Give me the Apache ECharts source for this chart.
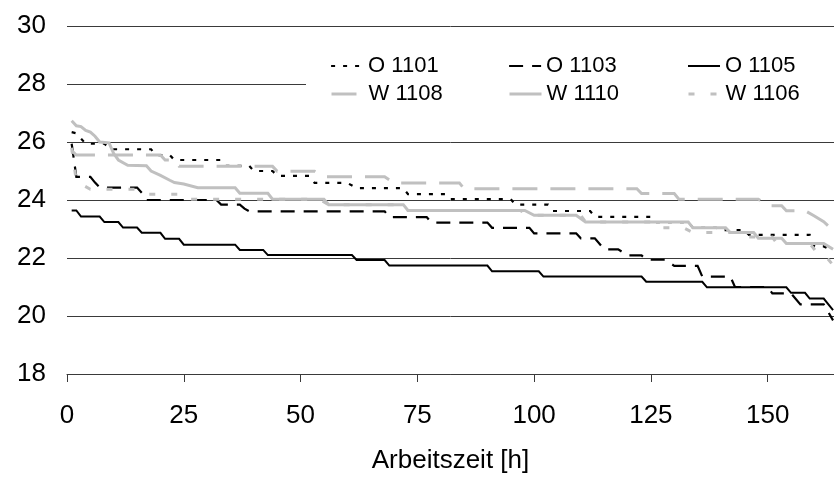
<!DOCTYPE html>
<html>
<head>
<meta charset="utf-8">
<script src="https://cdn.jsdelivr.net/npm/echarts@6/dist/echarts.min.js"></script>
<style>
html,body{margin:0;padding:0;background:#fff;}
#chart{width:834px;height:479px;}
</style>
</head>
<body>
<div id="chart"></div>
<script>
// Tick labels
var xTicks = [0, 25, 50, 75, 100, 125, 150];
var yTicks = [18, 20, 22, 24, 26, 28, 30];

// Series names
var seriesNames = ['O 1101', 'O 1103', 'O 1105', 'W 1108', 'W 1110', 'W 1106'];

// Series data: hours (x) and values (y) at the corners of each step
var o1101X = [1,2,4,8,9,10,18,19,22,23,33,34,39,40,44,45,52,53,60,62,72,73,81,82,95,96,103,104,112,113,125,126,133,134,139,140,145,146,159,160,162,164];
var o1101Y = [26.34,26.3,25.94,25.94,25.8,25.75,25.75,25.55,25.55,25.38,25.38,25.18,25.18,25.0,25.0,24.83,24.83,24.59,24.59,24.41,24.41,24.2,24.2,24.03,24.03,23.84,23.84,23.62,23.62,23.42,23.42,23.24,23.24,23.04,23.04,22.96,22.96,22.8,22.8,22.4,22.4,22.25];

var o1103X = [1,2,5,6,7,15,16,17,32,33,37,38,39,68,69,77,78,90,91,99,100,109,110,113,115,118,120,123,124,128,130,135,136,142,143,150,151,155,157,162,164];
var o1103Y = [25.94,24.8,24.8,24.6,24.43,24.43,24.25,24.0,24.0,23.84,23.84,23.7,23.61,23.61,23.41,23.41,23.22,23.22,23.04,23.04,22.85,22.85,22.68,22.68,22.3,22.3,22.09,22.09,21.94,21.94,21.73,21.73,21.36,21.36,21.0,21.0,20.78,20.78,20.4,20.4,19.85];

var o1105X = [1,2,3,7,8,11,12,15,16,20,21,24,25,36,37,42,43,61,62,68,69,90,91,101,102,123,124,136,137,154,155,158,159,162,163,164];
var o1105Y = [23.64,23.64,23.43,23.43,23.24,23.24,23.05,23.05,22.87,22.87,22.66,22.66,22.46,22.46,22.28,22.28,22.1,22.1,21.93,21.93,21.74,21.74,21.54,21.54,21.36,21.36,21.18,21.18,20.99,20.99,20.8,20.8,20.6,20.6,20.4,20.2];

var w1108X = [1,2,20,21,23,24,44,45,53,55,68,70,84,85,122,123,130,131,148,150,153,154,158,160,162,164];
var w1108Y = [25.7,25.55,25.55,25.38,25.38,25.16,25.16,24.99,24.99,24.8,24.8,24.59,24.59,24.39,24.39,24.22,24.22,24.03,24.03,23.8,23.8,23.63,23.63,23.45,23.25,22.95];

var w1110X = [1,2,3,4,5,6,7,9,10,11,13,17,18,20,22,23,25,28,36,37,43,44,55,56,72,73,98,100,109,111,133,134,141,142,147,148,153,154,162,164];
var w1110Y = [26.73,26.56,26.53,26.4,26.34,26.2,26.0,25.97,25.6,25.38,25.2,25.18,25.0,24.85,24.68,24.6,24.55,24.42,24.42,24.23,24.23,24.03,24.03,23.84,23.84,23.64,23.64,23.47,23.47,23.24,23.24,23.04,23.04,22.88,22.88,22.68,22.68,22.5,22.5,22.3];

var w1106X = [1,2,3,5,15,17,25,26,54,56,70,71,97,99,110,111,126,127,132,134,143,145,151,152,159,161,163,164];
var w1106Y = [25.8,24.65,24.55,24.37,24.37,24.2,24.2,24.03,24.03,23.84,23.84,23.64,23.64,23.47,23.47,23.24,23.24,23.04,23.04,22.88,22.88,22.72,22.72,22.5,22.5,22.1,21.95,21.75];

function pairs(xs, ys) { return xs.map(function (x, i) { return [x, ys[i]]; }); }

var FONT = '"Liberation Sans", Arial, sans-serif';
var GRAY = '#c0c0c0';
var GRID = '#3a3a3a';

var styles = [
  { color: '#000', width: 2.2, type: [4, 8] },
  { color: '#000', width: 2.2, type: [14, 9] },
  { color: '#000', width: 2, type: 'solid' },
  { color: GRAY, width: 3, type: [25, 13] },
  { color: GRAY, width: 3, type: 'solid' },
  { color: GRAY, width: 3, type: [6, 16] }
];
var dataSets = [
  pairs(o1101X, o1101Y), pairs(o1103X, o1103Y), pairs(o1105X, o1105Y),
  pairs(w1108X, w1108Y), pairs(w1110X, w1110Y), pairs(w1106X, w1106Y)
];

var series = seriesNames.map(function (n, i) {
  return {
    name: n, type: 'line', data: dataSets[i], symbol: 'none', showSymbol: false,
    animation: false, silent: true,
    lineStyle: { color: styles[i].color, width: styles[i].width, type: styles[i].type, cap: 'butt', join: 'miter' },
    itemStyle: { color: styles[i].color }
  };
});

var legendCols = [330, 508, 687];
var legendRows = [66, 94];
var legends = seriesNames.map(function (n, i) {
  return {
    data: [n], left: legendCols[i % 3], top: legendRows[Math.floor(i / 3)] - 13,
    padding: 0, itemWidth: 32, itemHeight: 14, itemGap: 0, selectedMode: false,
    lineStyle: { width: styles[i].width },
    itemStyle: { opacity: 0, color: 'rgba(0,0,0,0)', borderColor: 'rgba(0,0,0,0)', borderWidth: 0 },
    textStyle: { fontSize: 22, fontFamily: FONT, color: '#000', lineHeight: 26 }
  };
});

var chart = echarts.init(document.getElementById('chart'));
chart.setOption({
  animation: false,
  backgroundColor: '#fff',
  grid: { left: 67, right: 0, top: 26, bottom: 97, containLabel: false },
  graphic: [{ type: 'rect', shape: { x: 306, y: 48, width: 528, height: 66 }, style: { fill: '#fff' }, z: 1 }],
  legend: legends,
  xAxis: {
    type: 'value', min: 0, max: 164.2, interval: 25,
    axisLine: { show: true, lineStyle: { color: GRID, width: 1 } },
    axisTick: { show: true, length: 8, customValues: xTicks, lineStyle: { color: GRID } },
    axisLabel: { customValues: xTicks, fontSize: 26, fontFamily: FONT, color: '#000', margin: 29 },
    splitLine: { show: false },
    name: 'Arbeitszeit [h]', nameLocation: 'middle', nameGap: 74,
    nameTextStyle: { fontSize: 26, fontFamily: FONT, color: '#000' }
  },
  yAxis: {
    type: 'value', min: 18, max: 30, interval: 2,
    axisLine: { show: false }, axisTick: { show: false },
    axisLabel: { fontSize: 26, fontFamily: FONT, color: '#000', margin: 21 },
    splitLine: { show: true, lineStyle: { color: GRID, width: 1 } }
  },
  series: series
});
</script>
</body>
</html>
